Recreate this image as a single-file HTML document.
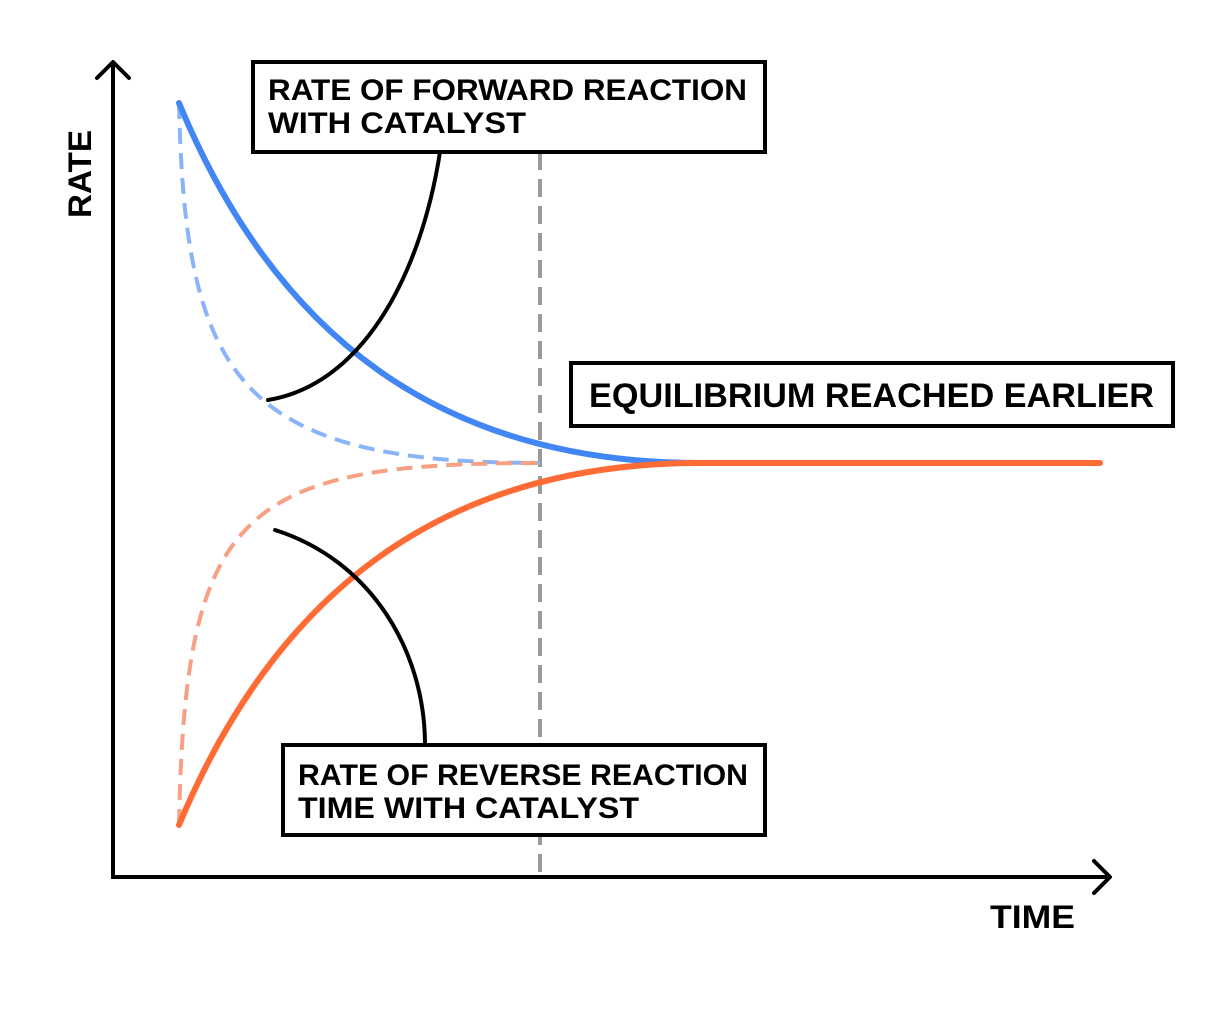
<!DOCTYPE html>
<html><head><meta charset="utf-8"><style>html,body{margin:0;padding:0;background:#fff}</style></head>
<body>
<svg width="1231" height="1012" viewBox="0 0 1231 1012" xmlns="http://www.w3.org/2000/svg" style="display:block">
<rect width="1231" height="1012" fill="#fff"/>
<g font-family="Liberation Sans, sans-serif" font-weight="bold" fill="#000">
<line x1="540" y1="152" x2="540" y2="877" stroke="#9a9a9a" stroke-width="4" stroke-dasharray="18,9"/>
<polyline points="113,62 113,877 1110,877" fill="none" stroke="#000" stroke-width="4"/>
<polyline points="97,78 113,62 129,78" fill="none" stroke="#000" stroke-width="4" stroke-linecap="round" stroke-linejoin="round"/>
<polyline points="1094,861 1110,877 1094,893" fill="none" stroke="#000" stroke-width="4" stroke-linecap="round" stroke-linejoin="round"/>
<path d="M179,103 C185,380 240,463 540,463" fill="none" stroke="#8ab4f8" stroke-width="4" stroke-dasharray="16,9"/>
<path d="M179,825 C185,510 240,463 540,463" fill="none" stroke="#f7a083" stroke-width="4" stroke-dasharray="16,9"/>
<path d="M179,103 C275,335 440,463 700,463" fill="none" stroke="#4285f4" stroke-width="6" stroke-linecap="round"/>
<path d="M179,825 C275,595 440,463 700,463 L1100,463" fill="none" stroke="#ff6b35" stroke-width="6" stroke-linecap="round"/>
<path d="M440,152 C420,280 360,385 268,400" fill="none" stroke="#000" stroke-width="4" stroke-linecap="round"/>
<path d="M275,530 C370,560 425,650 425,745" fill="none" stroke="#000" stroke-width="4" stroke-linecap="round"/>
<rect x="253" y="62" width="512" height="90" fill="#fff" stroke="#000" stroke-width="4"/>
<text x="268" y="100" font-size="30" textLength="479" lengthAdjust="spacingAndGlyphs">RATE OF FORWARD REACTION</text>
<text x="268" y="133" font-size="30" textLength="258" lengthAdjust="spacingAndGlyphs">WITH CATALYST</text>
<rect x="571" y="363" width="602" height="63" fill="#fff" stroke="#000" stroke-width="4"/>
<text x="589" y="407" font-size="34" textLength="565" lengthAdjust="spacingAndGlyphs">EQUILIBRIUM REACHED EARLIER</text>
<rect x="283" y="745" width="482" height="90" fill="#fff" stroke="#000" stroke-width="4"/>
<text x="298" y="785" font-size="30" textLength="450" lengthAdjust="spacingAndGlyphs">RATE OF REVERSE REACTION</text>
<text x="298" y="818" font-size="30" textLength="341" lengthAdjust="spacingAndGlyphs">TIME WITH CATALYST</text>
<text x="0" y="0" font-size="32" transform="translate(91,218) rotate(-90)" textLength="88" lengthAdjust="spacingAndGlyphs">RATE</text>
<text x="990" y="928" font-size="32" textLength="85" lengthAdjust="spacingAndGlyphs">TIME</text>
</g>
</svg>
</body></html>
